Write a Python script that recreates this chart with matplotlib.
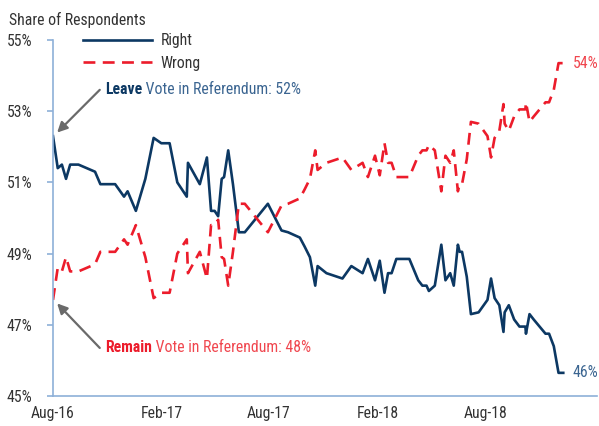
import pandas as pd
import matplotlib
matplotlib.use("Agg")
import matplotlib.pyplot as plt
import matplotlib.dates as mdates

# survey dates (YouGov "right or wrong to vote to leave" tracker)
dates = [
    "2016-08-01", "2016-08-09", "2016-08-16", "2016-08-23", "2016-08-30", "2016-09-13",
    "2016-10-11", "2016-10-20", "2016-11-14", "2016-11-29", "2016-12-05", "2016-12-19",
    "2017-01-04", "2017-01-18", "2017-01-31", "2017-02-14", "2017-02-27", "2017-03-15",
    "2017-03-17", "2017-04-06", "2017-04-18", "2017-04-25", "2017-05-01", "2017-05-07",
    "2017-05-13", "2017-05-17", "2017-05-24", "2017-06-01", "2017-06-11", "2017-06-21",
    "2017-07-30", "2017-08-22", "2017-09-02", "2017-09-22", "2017-09-30", "2017-10-09",
    "2017-10-18", "2017-10-22", "2017-11-06", "2017-12-03", "2017-12-18", "2018-01-06",
    "2018-01-15", "2018-01-27", "2018-02-04", "2018-02-12", "2018-02-18", "2018-02-24",
    "2018-03-04", "2018-03-26", "2018-04-10", "2018-04-17", "2018-04-24", "2018-04-28",
    "2018-05-08", "2018-05-19", "2018-05-26", "2018-06-03", "2018-06-09", "2018-06-16",
    "2018-06-19", "2018-06-23", "2018-07-01", "2018-07-08", "2018-07-21", "2018-08-05",
    "2018-08-11", "2018-08-17", "2018-08-25", "2018-09-01", "2018-09-03", "2018-09-10",
    "2018-09-19", "2018-09-28", "2018-10-08", "2018-10-09", "2018-10-15", "2018-10-22",
    "2018-11-01", "2018-11-11", "2018-11-17", "2018-11-25", "2018-12-03", "2018-12-11",
]

right = [
    52.3, 51.4, 51.5, 51.1, 51.5, 51.5,
    51.3, 50.95, 50.95, 50.6, 50.75, 50.2,
    51.1, 52.25, 52.1, 52.1, 51.0, 50.6,
    51.55, 50.95, 51.7, 50.2, 50.2, 50.05,
    51.1, 51.15, 51.9, 50.95, 49.6, 49.6,
    50.4, 49.65, 49.6, 49.45, 49.2, 48.9,
    48.1, 48.65, 48.45, 48.3, 48.65, 48.45,
    48.85, 48.25, 48.8, 47.9, 48.45, 48.45,
    48.85, 48.85, 48.25, 48.1, 48.1, 47.95,
    48.1, 49.25, 48.25, 48.45, 48.1, 49.25,
    49.05, 49.05, 48.35, 47.3, 47.35, 47.7,
    48.3, 47.75, 47.55, 46.8, 47.35, 47.55,
    47.15, 46.95, 46.95, 46.75, 47.3, 47.15,
    46.95, 46.75, 46.75, 46.4, 45.65, 45.65,
]

wrong = [
    47.7, 48.6, 48.5, 48.9, 48.5, 48.5,
    48.7, 49.05, 49.05, 49.4, 49.25, 49.8,
    48.9, 47.75, 47.9, 47.9, 49.0, 49.4,
    48.45, 49.05, 48.3, 49.8, 49.8, 49.95,
    48.9, 48.85, 48.1, 49.05, 50.4, 50.4,
    49.6, 50.35, 50.4, 50.55, 50.8, 51.1,
    51.9, 51.35, 51.55, 51.7, 51.35, 51.55,
    51.15, 51.75, 51.2, 52.1, 51.55, 51.55,
    51.15, 51.15, 51.75, 51.9, 51.9, 52.05,
    51.9, 50.75, 51.75, 51.55, 51.9, 50.75,
    50.95, 50.95, 51.65, 52.7, 52.65, 52.3,
    51.7, 52.25, 52.45, 53.2, 52.65, 52.45,
    52.85, 53.05, 53.05, 53.25, 52.7, 52.85,
    53.05, 53.25, 53.25, 53.6, 54.35, 54.35,
]

series_names = ["Right", "Wrong"]
x_ticks = ["2016-08-01", "2017-02-01", "2017-08-01", "2018-02-01", "2018-08-01"]
y_ticks = [45, 47, 49, 51, 53, 55]

NAVY = "#0c3863"
STEEL = "#3b6591"
RED = "#ec1c2b"
LIGHTRED = "#f0474f"
AXBLUE = "#8eb0d8"
GREY = "#333333"

# narrow font if one is around, else plain sans
plt.rcParams["font.family"] = ["Liberation Sans Narrow", "Roboto Condensed", "Open Sans Condensed",
                               "DejaVu Sans"]
plt.rcParams["font.stretch"] = "condensed"
FS = 11.3

x = pd.to_datetime(dates)

fig = plt.figure(figsize=(5.99, 4.26), dpi=100)
ax = fig.add_axes([53 / 599, 30 / 426, 544 / 599, 356 / 426])

ax.plot(x, right, color=NAVY, lw=1.9, label=series_names[0], solid_joinstyle="round")
ax.plot(x, wrong, color=RED, lw=1.9, ls=(0, (4.5, 2.8)), label=series_names[1])

x0 = pd.Timestamp("2016-08-01")
ax.set_xlim(x0, x0 + pd.Timedelta(days=919))
ax.set_ylim(45, 55)

ax.set_xticks(pd.to_datetime(x_ticks))
ax.xaxis.set_major_formatter(mdates.DateFormatter("%b-%y"))
ax.set_yticks(y_ticks)
ax.set_yticklabels([f"{v}%" for v in y_ticks])

for s in ["top", "right"]:
    ax.spines[s].set_visible(False)
for s in ["left", "bottom"]:
    ax.spines[s].set_color(AXBLUE)
    ax.spines[s].set_linewidth(1.2)
ax.tick_params(axis="y", colors=AXBLUE, labelcolor=GREY, labelsize=FS, length=4, width=1.2, pad=11)
ax.tick_params(axis="x", length=0, labelcolor=GREY, labelsize=FS, pad=7)

fig.text(9 / 599, 1 - 20 / 426, "Share of Respondents", fontsize=FS, color=GREY, va="center", ha="left")

leg = ax.legend(loc="upper left", bbox_to_anchor=(0.029, 1.058), frameon=False, fontsize=FS,
                handlelength=4.4, handletextpad=0.55, labelspacing=0.45, labelcolor=GREY)

# annotations
arrow = dict(arrowstyle="-|>", color="#6a6a6a", lw=1.6, mutation_scale=15, shrinkA=0, shrinkB=0)
ax.annotate("", xy=(x[0] + pd.Timedelta(days=7), 52.4), xytext=(x0 + pd.Timedelta(days=79), 53.6),
            arrowprops=arrow)
ax.annotate("", xy=(x[0] + pd.Timedelta(days=7), 47.6), xytext=(x0 + pd.Timedelta(days=79), 46.35),
            arrowprops=arrow)

t1 = ax.text(x0 + pd.Timedelta(days=88), 53.6, "Leave", color=NAVY, fontsize=FS,
             fontweight="bold", va="center", ha="left")
ax.annotate(" Vote in Referendum: 52%", xy=(1, 0), xycoords=t1, va="bottom", ha="left",
            color=STEEL, fontsize=FS)
t2 = ax.text(x0 + pd.Timedelta(days=88), 46.35, "Remain", color=RED, fontsize=FS,
             fontweight="bold", va="center", ha="left")
ax.annotate(" Vote in Referendum: 48%", xy=(1, 0), xycoords=t2, va="bottom", ha="left",
            color=LIGHTRED, fontsize=FS)

ax.annotate("54%", xy=(x[-1], wrong[-1]), xytext=(7, 0), textcoords="offset points",
            color=LIGHTRED, fontsize=FS, va="center")
ax.annotate("46%", xy=(x[-1], right[-1]), xytext=(7, 0), textcoords="offset points",
            color=STEEL, fontsize=FS, va="center")

fig.savefig("out.png", dpi=100)
